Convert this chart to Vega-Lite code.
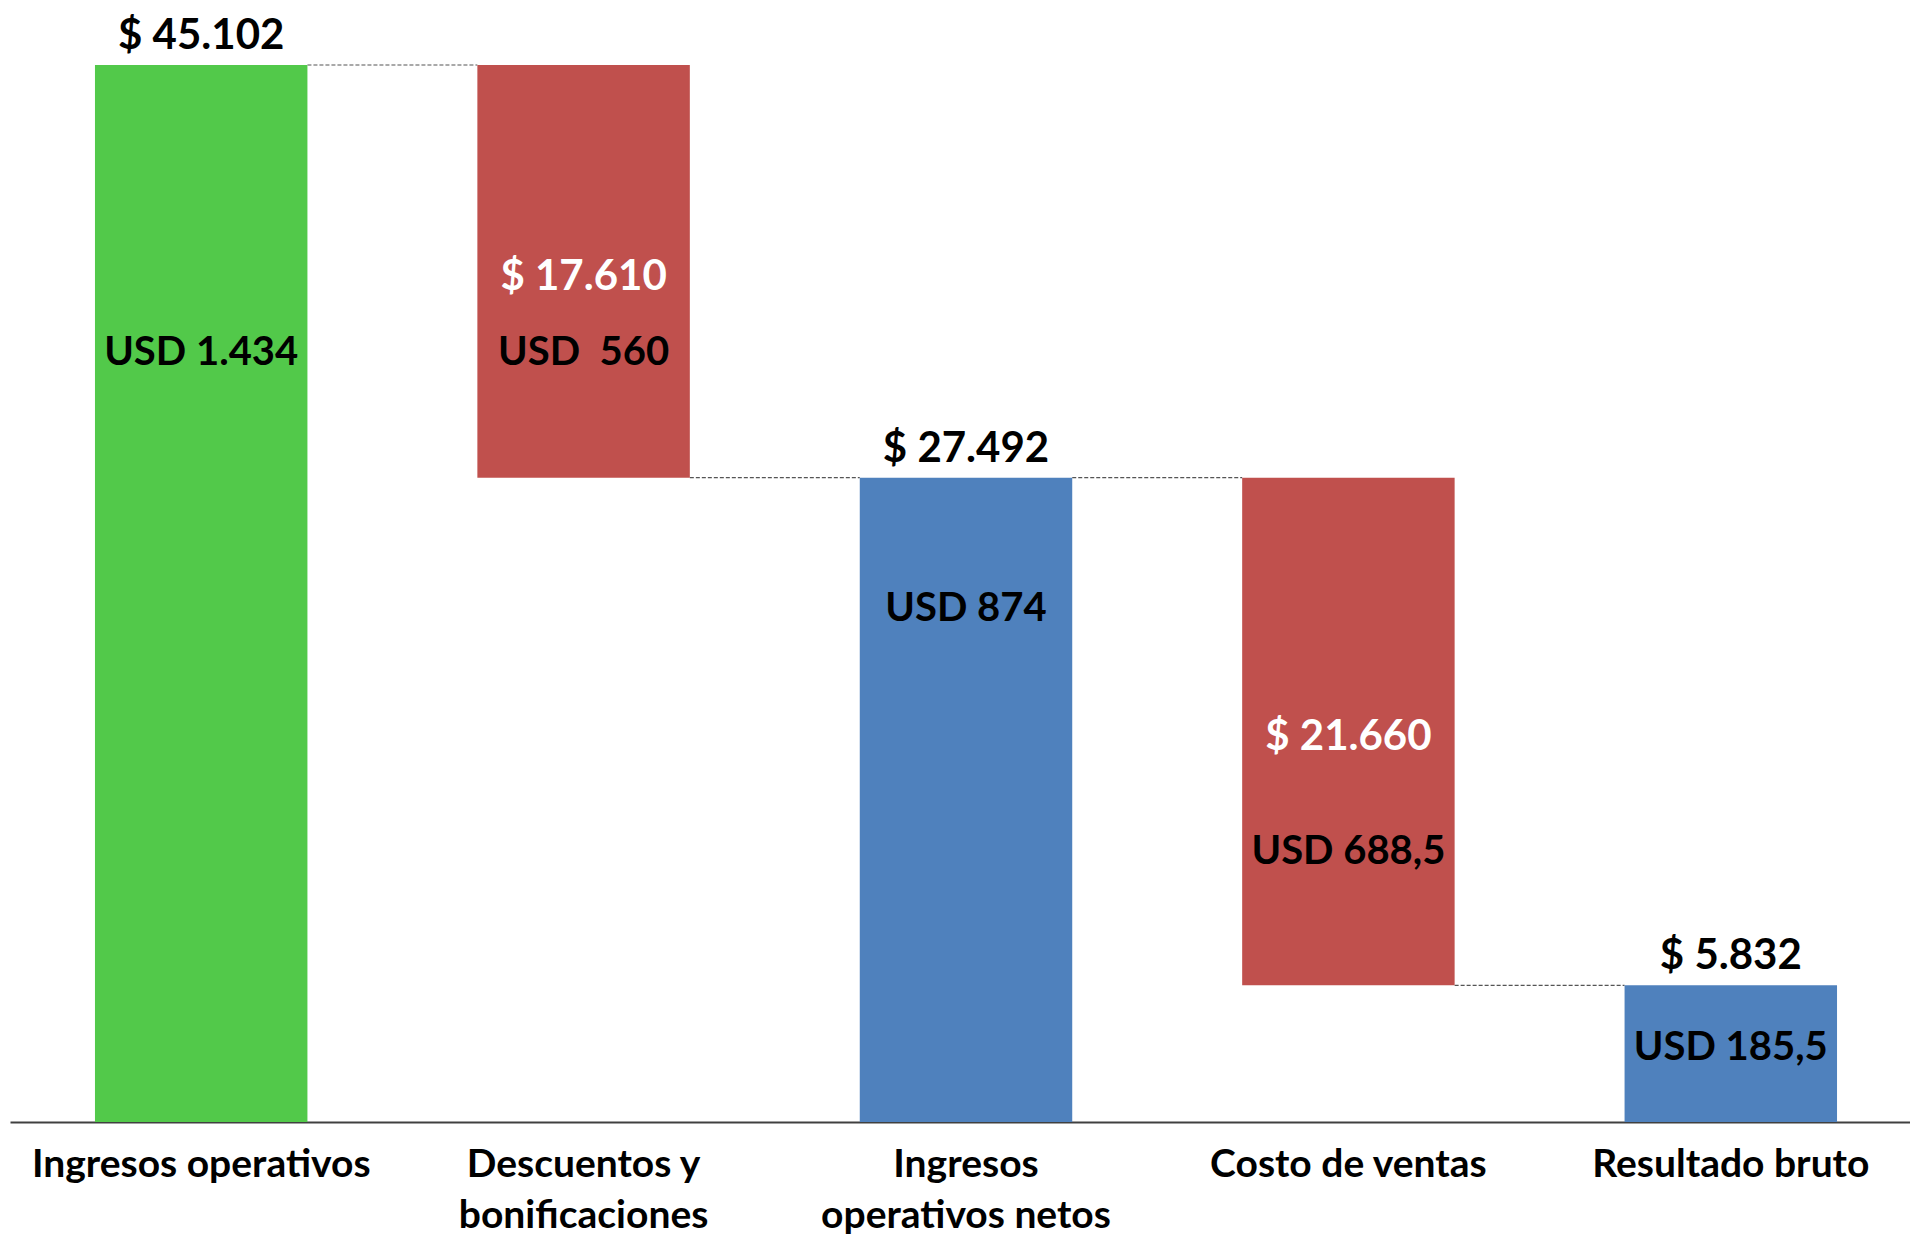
{
  "$schema": "https://vega.github.io/schema/vega-lite/v6.json",
  "width": 1912,
  "height": 1122,
  "autosize": "none",
  "padding": {"left": 10, "top": 0, "right": -12, "bottom": 113},
  "background": "white",
  "config": {
    "view": {"stroke": null},
    "font": "Lato",
    "text": {"font": "Lato", "fontWeight": "bold"}
  },
  "datasets": {
    "bars": [
      {"cat": "Ingresos operativos", "lo": 0, "hi": 45102, "tipo": "ini", "top": "$ 45.102", "mid": "", "midPos": 0, "usd": "USD 1.434", "usdPos": 32800},
      {"cat": "Descuentos y|bonificaciones", "lo": 27492, "hi": 45102, "tipo": "neg", "top": "", "mid": "$ 17.610", "midPos": 36040, "usd": "USD \u00a0560", "usdPos": 32800},
      {"cat": "Ingresos|operativos netos", "lo": 0, "hi": 27492, "tipo": "total", "top": "$ 27.492", "mid": "", "midPos": 0, "usd": "USD 874", "usdPos": 21910},
      {"cat": "Costo de ventas", "lo": 5832, "hi": 27492, "tipo": "neg", "top": "", "mid": "$ 21.660", "midPos": 16440, "usd": "USD 688,5", "usdPos": 11540},
      {"cat": "Resultado bruto", "lo": 0, "hi": 5832, "tipo": "total", "top": "$ 5.832", "mid": "", "midPos": 0, "usd": "USD 185,5", "usdPos": 3140}
    ],
    "links": [
      {"from": "Ingresos operativos", "to": "Descuentos y|bonificaciones", "level": 45102},
      {"from": "Descuentos y|bonificaciones", "to": "Ingresos|operativos netos", "level": 27492},
      {"from": "Ingresos|operativos netos", "to": "Costo de ventas", "level": 27492},
      {"from": "Costo de ventas", "to": "Resultado bruto", "level": 5832}
    ]
  },
  "layer": [
    {
      "data": {"name": "links"},
      "mark": {"type": "rule", "color": "#555555", "strokeWidth": 1.2, "strokeDash": [4, 2]},
      "encoding": {
        "x": {"field": "from", "type": "nominal", "sort": null, "bandPosition": 1},
        "x2": {"field": "to", "bandPosition": 0},
        "y": {"field": "level", "type": "quantitative"}
      }
    },
    {
      "data": {"name": "bars"},
      "layer": [
        {
          "mark": {"type": "bar"},
          "encoding": {
            "y": {"field": "lo", "type": "quantitative", "scale": {"domain": [0, 47875], "nice": false, "zero": true}, "axis": null},
            "y2": {"field": "hi"},
            "color": {"field": "tipo", "type": "nominal", "scale": {"domain": ["ini", "neg", "total"], "range": ["#52C94A", "#C0504D", "#4F81BD"]}, "legend": null}
          }
        },
        {
          "mark": {"type": "text", "fontSize": 42, "baseline": "alphabetic", "dy": -16, "color": "#000000"},
          "encoding": {
            "y": {"field": "hi", "type": "quantitative"},
            "text": {"field": "top"}
          }
        },
        {
          "mark": {"type": "text", "fontSize": 42, "baseline": "middle", "color": "#FFFFFF"},
          "encoding": {
            "y": {"field": "midPos", "type": "quantitative"},
            "text": {"field": "mid"}
          }
        },
        {
          "mark": {"type": "text", "fontSize": 40, "baseline": "middle", "color": "#000000"},
          "encoding": {
            "y": {"field": "usdPos", "type": "quantitative"},
            "text": {"field": "usd"}
          }
        }
      ],
      "encoding": {
        "x": {
          "field": "cat",
          "type": "nominal",
          "sort": null,
          "scale": {"paddingInner": 0.4444, "paddingOuter": 0.2222},
          "axis": {
            "title": null,
            "labelAngle": 0,
            "labelAlign": "center",
            "ticks": false,
            "domainColor": "#404040",
            "domainWidth": 2,
            "labelFont": "Lato",
            "labelFontWeight": "bold",
            "labelFontSize": 39,
            "labelColor": "#000000",
            "labelPadding": 42,
            "labelLineHeight": 51,
            "labelLimit": 0,
            "labelExpr": "split(datum.label, '|')"
          }
        }
      }
    }
  ]
}
